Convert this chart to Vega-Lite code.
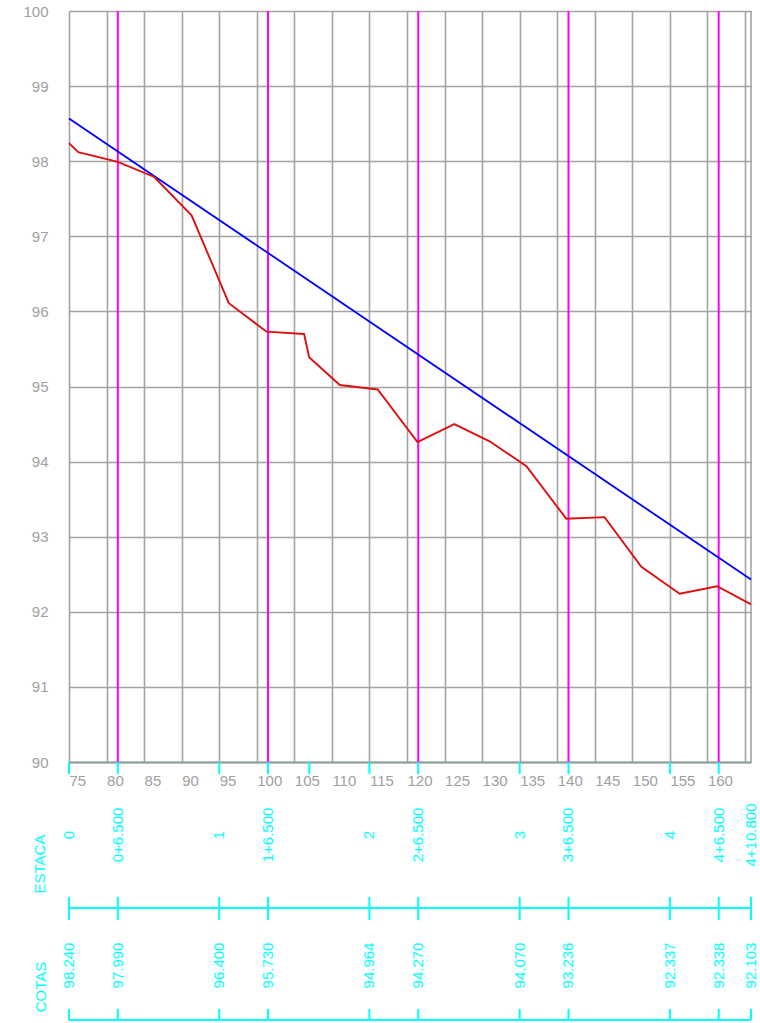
{
  "$schema": "https://vega.github.io/schema/vega-lite/v6.json",
  "padding": {"left": 22, "top": 4, "right": 0, "bottom": 0},
  "background": "white",
  "spacing": 1,
  "config": {"view": {"stroke": null}, "font": "Liberation Sans", "text": {"font": "Liberation Sans"}},
  "datasets": {
    "terrain": [
      {"x": 75, "z": 98.24}, {"x": 76.24, "z": 98.12}, {"x": 81.5, "z": 97.99}, {"x": 86.35, "z": 97.79},
      {"x": 91.32, "z": 97.28}, {"x": 96.28, "z": 96.11}, {"x": 101.3, "z": 95.73}, {"x": 106.3, "z": 95.7},
      {"x": 106.97, "z": 95.39}, {"x": 111.05, "z": 95.02}, {"x": 116.1, "z": 94.96}, {"x": 121.4, "z": 94.26},
      {"x": 126.3, "z": 94.5}, {"x": 131, "z": 94.27}, {"x": 135.9, "z": 93.94}, {"x": 141.2, "z": 93.24},
      {"x": 146.3, "z": 93.26}, {"x": 151.2, "z": 92.6}, {"x": 156.3, "z": 92.24}, {"x": 161.3, "z": 92.34},
      {"x": 165.8, "z": 92.1}
    ],
    "grade": [{"x": 75, "z": 98.57}, {"x": 165.8, "z": 92.43}],
    "stations": [
      {"pos": 75, "estaca": "0", "cota": "98.240"},
      {"pos": 81.5, "estaca": "0+6.500", "cota": "97.990"},
      {"pos": 95, "estaca": "1", "cota": "96.400"},
      {"pos": 101.5, "estaca": "1+6.500", "cota": "95.730"},
      {"pos": 115, "estaca": "2", "cota": "94.964"},
      {"pos": 121.5, "estaca": "2+6.500", "cota": "94.270"},
      {"pos": 135, "estaca": "3", "cota": "94.070"},
      {"pos": 141.5, "estaca": "3+6.500", "cota": "93.236"},
      {"pos": 155, "estaca": "4", "cota": "92.337"},
      {"pos": 161.5, "estaca": "4+6.500", "cota": "92.338"},
      {"pos": 165.8, "estaca": "4+10.800", "cota": "92.103"}
    ],
    "cyanticks": [
      {"x": 75}, {"x": 81.5}, {"x": 95}, {"x": 101.5}, {"x": 107}, {"x": 115},
      {"x": 121.5}, {"x": 135}, {"x": 141.5}, {"x": 155}, {"x": 161.5}
    ],
    "bands": [{"band": "ESTACA"}],
    "cotasband": [{"band": "COTAS"}]
  },
  "vconcat": [
    {
      "width": 682,
      "height": 751,
      "layer": [
        {
          "data": {"name": "stations"},
          "transform": [{"filter": "indexof(datum.estaca, '+6.500') >= 0"}],
          "mark": {"type": "rule", "color": "#ff00ff", "strokeWidth": 2},
          "encoding": {
            "x": {
              "field": "pos", "type": "quantitative",
              "scale": {"domain": [75, 165.8], "nice": false, "zero": false},
              "axis": {
                "values": [75, 80, 85, 90, 95, 100, 105, 110, 115, 120, 125, 130, 135, 140, 145, 150, 155, 160, 165],
                "tickCount": 40,
                "grid": true, "gridColor": "#a3a3a3", "gridWidth": 1.6,
                "ticks": false, "domainColor": "#8c9c9c", "domainWidth": 2,
                "labelAlign": "left", "labelBaseline": "top", "labelPadding": 11,
                "labelFontSize": 15, "labelColor": "#a0a0a0", "labelFont": "Liberation Sans",
                "format": "d",
                "labelExpr": "datum.value >= 165 ? '' : datum.label",
                "labelFlush": false, "labelOverlap": false, "labelBound": false,
                "title": null
              }
            },
            "y": {
              "datum": 90, "type": "quantitative",
              "scale": {"domain": [90, 100], "nice": false, "zero": false},
              "axis": {
                "values": [90, 91, 92, 93, 94, 95, 96, 97, 98, 99, 100],
                "tickCount": 20,
                "format": "d",
                "grid": true, "gridColor": "#a3a3a3", "gridWidth": 1.6,
                "ticks": false, "domain": false,
                "labelPadding": 21, "labelFontSize": 15, "labelColor": "#a0a0a0",
                "labelFont": "Liberation Sans", "title": null
              }
            },
            "y2": {"datum": 100}
          }
        },
        {
          "data": {"name": "bands"},
          "mark": {"type": "rule", "color": "#a3a3a3", "strokeWidth": 1.6},
          "encoding": {"x": {"datum": 165.8, "type": "quantitative"}, "y": {"datum": 90}, "y2": {"datum": 100}}
        },
        {
          "data": {"name": "grade"},
          "mark": {"type": "line", "color": "#0000ff", "strokeWidth": 1.8},
          "encoding": {"x": {"field": "x", "type": "quantitative"}, "y": {"field": "z", "type": "quantitative"}}
        },
        {
          "data": {"name": "terrain"},
          "mark": {"type": "line", "color": "#dd1010", "strokeWidth": 1.9},
          "encoding": {"x": {"field": "x", "type": "quantitative"}, "y": {"field": "z", "type": "quantitative"}}
        },
        {
          "data": {"name": "cyanticks"},
          "mark": {"type": "rule", "color": "#00ffff", "strokeWidth": 2},
          "encoding": {"x": {"field": "x", "type": "quantitative"}, "y": {"datum": 90}, "y2": {"datum": 89.84}}
        }
      ]
    },
    {
      "width": 682,
      "height": 232,
      "layer": [
        {
          "data": {"name": "bands"},
          "mark": {"type": "rule", "color": "#00ffff", "strokeWidth": 2},
          "encoding": {
            "x": {"datum": 75, "type": "quantitative", "scale": {"domain": [75, 165.8], "nice": false, "zero": false}, "axis": null},
            "x2": {"datum": 165.8},
            "y": {"datum": 113, "type": "quantitative", "scale": {"domain": [0, 232], "nice": false, "zero": false}, "axis": null}
          }
        },
        {
          "data": {"name": "cotasband"},
          "mark": {"type": "rule", "color": "#00ffff", "strokeWidth": 2},
          "encoding": {"x": {"datum": 75, "type": "quantitative"}, "x2": {"datum": 165.8}, "y": {"datum": 1, "type": "quantitative"}}
        },
        {
          "data": {"name": "stations"},
          "mark": {"type": "rule", "color": "#00ffff", "strokeWidth": 2},
          "encoding": {"x": {"field": "pos", "type": "quantitative"}, "y": {"datum": 101, "type": "quantitative"}, "y2": {"datum": 124}}
        },
        {
          "data": {"name": "stations"},
          "mark": {"type": "rule", "color": "#00ffff", "strokeWidth": 2},
          "encoding": {"x": {"field": "pos", "type": "quantitative"}, "y": {"datum": 1, "type": "quantitative"}, "y2": {"datum": 12}}
        },
        {
          "data": {"name": "stations"},
          "mark": {"type": "text", "color": "#00ffff", "fontSize": 15, "angle": 270, "align": "center", "baseline": "middle", "font": "Liberation Sans"},
          "encoding": {"x": {"field": "pos", "type": "quantitative"}, "y": {"datum": 186, "type": "quantitative"}, "text": {"field": "estaca"}}
        },
        {
          "data": {"name": "stations"},
          "mark": {"type": "text", "color": "#00ffff", "fontSize": 15, "angle": 270, "align": "center", "baseline": "middle", "font": "Liberation Sans"},
          "encoding": {"x": {"field": "pos", "type": "quantitative"}, "y": {"datum": 55.5, "type": "quantitative"}, "text": {"field": "cota"}}
        },
        {
          "data": {"name": "bands"},
          "mark": {"type": "text", "color": "#00ffff", "fontSize": 15, "angle": 270, "align": "center", "baseline": "middle", "font": "Liberation Sans"},
          "encoding": {"x": {"datum": 71.15, "type": "quantitative"}, "y": {"datum": 157, "type": "quantitative"}, "text": {"field": "band"}}
        },
        {
          "data": {"name": "cotasband"},
          "mark": {"type": "text", "color": "#00ffff", "fontSize": 15, "angle": 270, "align": "center", "baseline": "middle", "font": "Liberation Sans"},
          "encoding": {"x": {"datum": 71.25, "type": "quantitative"}, "y": {"datum": 34, "type": "quantitative"}, "text": {"field": "band"}}
        }
      ]
    }
  ]
}
